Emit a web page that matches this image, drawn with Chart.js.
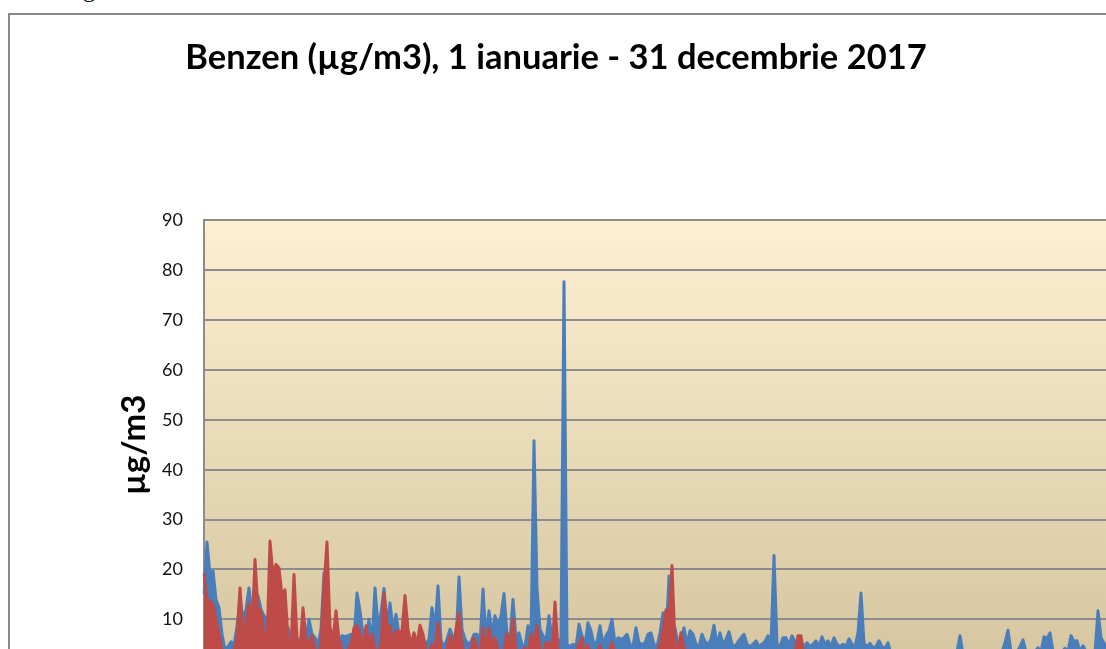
<!DOCTYPE html>
<html>
<head>
<meta charset="utf-8">
<script src="https://cdn.jsdelivr.net/npm/chart.js@4.4.1/dist/chart.umd.min.js"></script>
<style>
  html, body { margin: 0; padding: 0; background: #fff; overflow: hidden; width: 1106px; height: 649px; }
  #frame { position: absolute; left: 8px; top: 13px; border: 2px solid #8a8a8a; width: 1130px; height: 686px; }
  #above { position: absolute; left: 83px; top: -23px; font: 24px "Liberation Serif", serif; line-height: 1; color: #000; }
</style>
</head>
<body>
<div id="above">g</div>
<div id="frame"><canvas id="benzen" width="1130" height="686"></canvas></div>
<script>
// Benzen, valori (µg/m3)
const blue = [
  15, 25.5, 19, 19.7, 14, 12.3, 7, 4, 4.5, 5.5,
  5, 8.5, 14.3, 10, 12, 16.3, 11, 13, 14.7, 12,
  10.7, 10, 8, 13, 9, 14.7, 11, 9, 8.3, 6,
  7, 6.3, 5, 7, 6, 10, 7, 6.3, 5, 8,
  19.3, 12, 8, 7, 6, 5, 6.7, 6.5, 6.7, 7,
  6, 15.3, 11.7, 7, 6, 10, 5, 16.3, 8.7, 11.3,
  16.2, 9, 13.3, 8, 11, 7, 6, 6.5, 5, 4.5,
  5, 4, 5.5, 4.5, 5, 6, 12.3, 8, 16.7, 5.7,
  4.5, 6, 8, 6.5, 5, 18.5, 8, 6, 5, 5.5,
  7, 7, 5, 16.1, 6, 11.7, 7, 10.7, 8.7, 10.7,
  15.2, 7, 6, 14, 6, 7.3, 5, 4.5, 8.7, 6,
  45.8, 16.3, 8, 6.7, 5.5, 10.7, 6, 5.5, 5, 6.3,
  77.7, 5, 4.5, 5, 4.5, 9, 6.7, 5, 9.3, 7.7,
  5, 5.5, 8.7, 5, 6.7, 7.7, 10, 5, 6.3, 6,
  6.3, 7, 5, 4.5, 8.3, 5.3, 5, 5.3, 7, 7.3,
  5, 4.5, 7.3, 11.3, 6, 18.7, 7, 8.3, 5, 6,
  8.3, 5, 7.7, 7, 5, 4.5, 7, 5.5, 5, 6,
  8.8, 5, 7.3, 5, 6, 7.5, 5, 4.5, 5.5, 6.3,
  7, 5, 4.5, 5, 5.7, 4.5, 5, 5.5, 6.7, 5,
  22.8, 5, 4.5, 6.3, 6.3, 5, 6.7, 5.5, 4.5, 5,
  4.5, 5.3, 4.5, 5, 5.7, 4.5, 6.5, 5, 5.7, 4.5,
  6.3, 5, 4.5, 5, 4.5, 6.1, 5, 4.5, 7.3, 15.3,
  5.2, 4.5, 5.2, 4.3, 4.5, 5.7, 4.5, 4.2, 5.3, 3,
  2.5, 2, 2.5, 3, 2, 2.5, 3, 2, 2.5, 2,
  3, 2.5, 2, 2.5, 3, 2, 2.5, 3, 2, 2.5,
  3, 3.5, 6.7, 3, 2.5, 2, 2.5, 3, 2, 2.5,
  3, 2.5, 2, 2.5, 3, 2.5, 3.5, 5.3, 7.8, 3.5,
  3, 3.5, 4.5, 5.9, 3.5, 3, 2.5, 3.5, 4.3, 3.5,
  6.5, 6.1, 7.3, 3.5, 3, 2.5, 3.5, 4.2, 3.5, 6.7,
  5.5, 5.7, 3.5, 4.7, 3.5, 3, 2.5, 3.5, 11.7, 6.3,
  5.2, 4, 3.5, 5, 4.5, 3, 4, 5.5, 4, 3.5
];

const red = [
  19.3, 14, 13.7, 13, 10, 7, 4, 3, 3, 3,
  4, 6, 16.3, 7, 9, 13.3, 8, 22, 12, 11.7,
  7, 5, 25.7, 18.7, 21, 20.3, 14.7, 15.9, 6, 4,
  19, 6, 4, 12.3, 6, 5, 6.7, 4, 3, 5,
  16.7, 25.5, 8.3, 6, 11.7, 6, 4, 3, 4, 5,
  8.3, 8.7, 7.3, 4, 8.7, 5, 7, 4, 3.5, 5,
  15.3, 8.7, 8.7, 5, 7.7, 7.5, 7.7, 14.8, 8, 5,
  7.3, 5, 8.8, 7, 4, 3, 5, 4, 9.2, 4,
  3, 4, 6.7, 4, 8, 11.3, 5, 3, 3.5, 4,
  6.3, 4, 3, 8.3, 4, 8.3, 5, 6.3, 4, 3,
  3.5, 7.3, 4, 10, 3.5, 3, 3.5, 4.3, 3, 7,
  5, 8.7, 4, 3, 5.3, 5.3, 3, 13.5, 4, 3,
  3, 3.5, 3, 3, 3.5, 5, 6.3, 3, 4.7, 3,
  3, 3.5, 4.7, 3, 3, 3.5, 5.3, 3, 3, 2.5,
  3, 2.5, 3, 3, 2.5, 3, 3, 2.5, 3, 3,
  3, 3.5, 5, 8, 11.9, 10.5, 20.8, 5, 4, 7.3,
  4.3, 3, 2.5, 3, 3, 2.5, 3, 3, 2.5, 3,
  3, 2.5, 3, 3, 2.5, 3, 3, 2.5, 3, 3,
  2.5, 3, 3, 2.5, 3, 3, 2.5, 3, 3, 2.5,
  3, 3, 2.5, 3, 3, 2.5, 3, 3.5, 6.7, 6.7,
  3, 2.5, 3, 2.5, 3, 2.5
];

const yTicks = [0, 10, 20, 30, 40, 50, 60, 70, 80, 90];
const labels = blue.map((v, i) => i);

// fundal degradat in zona graficului
const plotBg = {
  id: 'plotBg',
  beforeDraw(chart) {
    const { ctx, chartArea } = chart;
    const g = ctx.createLinearGradient(0, chartArea.top, 0, chartArea.bottom);
    g.addColorStop(0, '#fdefd1');
    g.addColorStop(1, '#d5c59f');
    ctx.save();
    ctx.fillStyle = g;
    ctx.fillRect(chartArea.left, chartArea.top, chartArea.right - chartArea.left, chartArea.bottom - chartArea.top);
    ctx.restore();
  }
};

new Chart(document.getElementById('benzen'), {
  type: 'line',
  data: {
    labels: labels,
    datasets: [
      {
        label: 'Statia 1',
        data: red,
        borderColor: '#be4b48',
        backgroundColor: '#be4b48',
        borderWidth: 3,
        borderJoinStyle: 'round',
        pointRadius: 0,
        fill: 'origin',
        order: 1
      },
      {
        label: 'Statia 2',
        data: blue,
        borderColor: '#4a7ebb',
        backgroundColor: '#4a7ebb',
        borderWidth: 3,
        borderJoinStyle: 'round',
        pointRadius: 0,
        fill: 'origin',
        order: 2
      }
    ]
  },
  options: {
    responsive: false,
    animation: false,
    layout: { padding: { left: -29, right: 9, top: 0, bottom: 0 } },
    plugins: {
      legend: { display: false },
      tooltip: { enabled: false },
      filler: { drawTime: 'beforeDatasetDraw' },
      title: {
        display: true,
        text: 'Benzen (µg/m3), 1 ianuarie - 31 decembrie 2017',
        color: '#000',
        font: { family: 'Lato', size: 34.5, weight: 'bold' },
        padding: { top: 22, bottom: 142 }
      }
    },
    scales: {
      x: { display: false },
      y: {
        min: yTicks[0],
        max: yTicks[yTicks.length - 1],
        afterFit: function(scale) { scale.width = 223; },
        ticks: {
          stepSize: 10,
          padding: 21,
          color: '#111',
          font: { family: 'Lato', size: 18 }
        },
        grid: { color: '#8c8c8c', lineWidth: 2, drawTicks: false },
        border: { display: true, color: '#8c8c8c', width: 2 },
        title: {
          display: true,
          text: 'µg/m3',
          color: '#000',
          font: { family: 'Lato', size: 33, weight: 'bold' },
          padding: { top: 134, bottom: 0 }
        }
      }
    }
  },
  plugins: [plotBg]
});
</script>
</body>
</html>
